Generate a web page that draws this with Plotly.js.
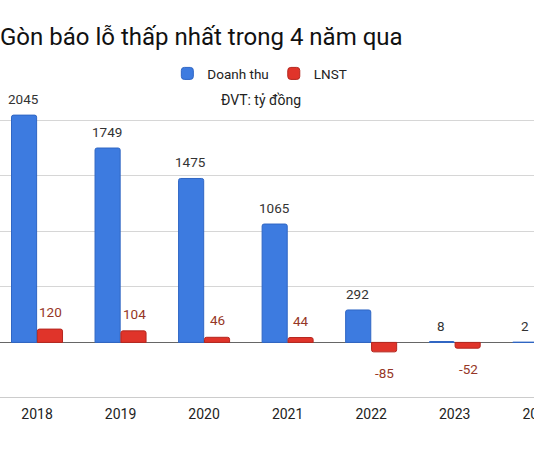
<!DOCTYPE html>
<html>
<head>
<meta charset="utf-8">
<script src="https://cdn.plot.ly/plotly-3.0.1.min.js"></script>
<style>
html,body{margin:0;padding:0;overflow:hidden;background:#fff;width:534px;height:462px;}
#chart{width:580px;height:462px;}
</style>
</head>
<body>
<div id="chart"></div>
<script>
const years = ["2018","2019","2020","2021","2022","2023","2024"];
const doanhThu = [2045, 1749, 1475, 1065, 292, 8, 2];
const lnst = [120, 104, 46, 44, -85, -52, null];
const titleText = "Gòn báo lỗ thấp nhất trong 4 năm qua";
const unitNote = "ĐVT: tỷ đồng";

const traces = [
  {
    type: "bar", name: "Doanh thu", x: years, y: doanhThu, cliponaxis: false,
    marker: {color: "#3d7be0", line: {color: "#2f66c4", width: 1}, cornerradius: 2},
    hoverinfo: "skip"
  },
  {
    type: "bar", name: "LNST", x: years, y: lnst, cliponaxis: false,
    marker: {color: "#e0342a", line: {color: "#b5271f", width: 1}, cornerradius: 2},
    hoverinfo: "skip"
  }
];

const labelAnns = [];
years.forEach((yr, i) => {
  labelAnns.push({x: i, y: doanhThu[i], xref: "x", yref: "y", text: String(doanhThu[i]),
    showarrow: false, xshift: -13.5, yshift: 6, yanchor: "bottom",
    font: {size: 13.5, family: "Roboto", color: "#333333"}});
  if (lnst[i] !== null) {
    const neg = lnst[i] < 0;
    labelAnns.push({x: i, y: lnst[i], xref: "x", yref: "y", text: String(lnst[i]),
      showarrow: false, xshift: 13.5, yshift: neg ? -11 : 7, yanchor: neg ? "top" : "bottom",
      font: {size: 13.5, family: "Roboto", color: "#963626"}});
  }
});

const layout = {
  width: 580, height: 462,
  margin: {l: 0, r: 0, t: 109, b: 64},
  paper_bgcolor: "#ffffff", plot_bgcolor: "#ffffff",
  font: {family: "Roboto", color: "#222"},
  barmode: "group", bargap: 0.38, bargroupgap: 0.03,
  title: {text: titleText, x: 0, xref: "container", xanchor: "left",
          y: 0.921, yref: "container", yanchor: "middle",
          font: {size: 24, family: "Roboto", color: "#111"}},
  showlegend: true,
  legend: {orientation: "h", x: 0.448, xanchor: "center", y: 1.176, yanchor: "top",
           font: {size: 13.5, family: "Roboto", color: "#222"}, traceorder: "normal"},
  xaxis: {type: "category", range: [-0.443, 6.5], showgrid: false, zeroline: false,
          showline: false, ticks: "", ticklabelstandoff: 6,
          tickfont: {size: 14, family: "Roboto", color: "#222"}, fixedrange: true},
  yaxis: {range: [-500, 2100], tickvals: [-500, 0, 500, 1000, 1500, 2000], showticklabels: false,
          showgrid: true, gridcolor: "#d6d6d6", gridwidth: 1,
          zeroline: true, zerolinecolor: "#666666", zerolinewidth: 1.5, fixedrange: true},
  annotations: [
    {text: unitNote, xref: "paper", yref: "paper", x: 0.45, y: 1.031, yanchor: "middle", showarrow: false,
     font: {size: 14, family: "Roboto", color: "#222"}}
  ].concat(labelAnns),
  shapes: [
    {type: "line", xref: "paper", yref: "y", x0: 0, x1: 1, y0: -500, y1: -500,
     line: {color: "#bbbbbb", width: 1.5}}
  ]
};

Plotly.newPlot("chart", traces, layout, {displayModeBar: false, staticPlot: true});
</script>
</body>
</html>
